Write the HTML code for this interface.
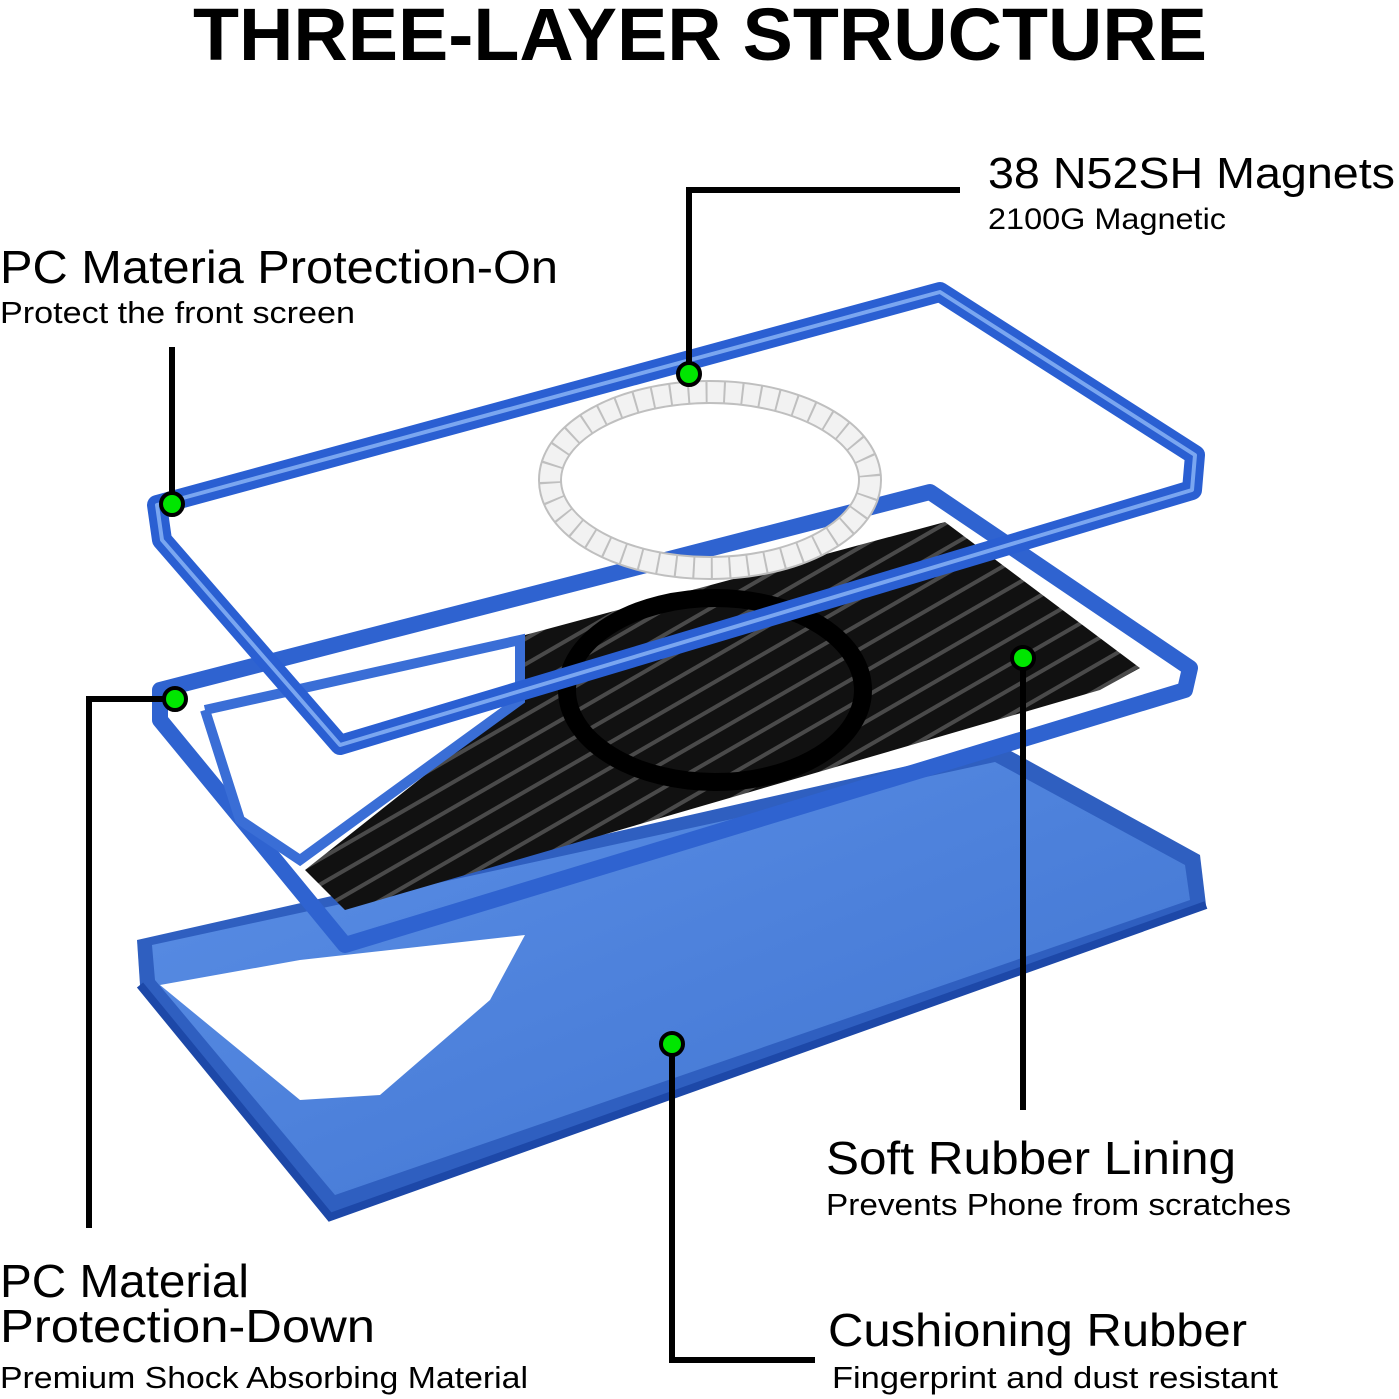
<!DOCTYPE html>
<html><head><meta charset="utf-8"><style>
html,body{margin:0;padding:0;background:#fff}
svg{display:block}
text{font-family:"Liberation Sans","DejaVu Sans",sans-serif;fill:#000}
</style></head><body>
<svg width="1399" height="1399" viewBox="0 0 1399 1399" xmlns="http://www.w3.org/2000/svg">
<defs>
<pattern id="st" width="22" height="22" patternUnits="userSpaceOnUse" patternTransform="rotate(-30)">
<rect width="22" height="22" fill="#111"/>
<rect y="0" width="22" height="4" fill="#4a4a4a"/>
</pattern>
<linearGradient id="bl" x1="0" y1="0" x2="1" y2="1">
<stop offset="0" stop-color="#5b8fe6"/><stop offset="1" stop-color="#3f73d0"/>
</linearGradient>
</defs>
<text x="193" y="60" font-size="74" font-weight="bold" textLength="1014" lengthAdjust="spacingAndGlyphs">THREE-LAYER STRUCTURE</text>

<!-- bottom case -->
<polygon points="137,940 1000,745 1200,855 1206,905 330,1217 140,985" fill="#2f5fc0"/>
<polygon points="152,945 995,762 1185,865 1190,900 335,1195 155,980" fill="url(#bl)"/>
<polygon points="160,985 300,960 525,935 490,1000 380,1095 300,1100" fill="#fff"/>
<polyline points="140,985 330,1217 1206,905" fill="none" stroke="#1d48a8" stroke-width="8"/>

<!-- middle layer -->
<polygon points="160,690 930,492 1190,668 1185,690 345,945 160,720" fill="none" stroke="#2f63d0" stroke-width="16" stroke-linejoin="round"/>
<polygon points="525,635 945,522 1140,668 1100,690 345,910 305,870 520,700" fill="url(#st)"/>
<ellipse cx="715" cy="690" rx="148" ry="92" fill="none" stroke="#000" stroke-width="18"/>
<polygon points="205,710 520,640 520,700 300,860 240,820" fill="#fff"/>
<polyline points="205,710 520,640 520,700 300,860 240,820 205,710" fill="none" stroke="#3a6ed6" stroke-width="10"/>

<!-- top frame -->
<polygon points="157,505 940,292 1195,455 1192,490 340,745 162,540" fill="none" stroke="#2a5fd2" stroke-width="20" stroke-linejoin="round"/>
<polygon points="157,505 940,292 1195,455 1192,490 340,745 162,540" fill="none" stroke="#7aa6f0" stroke-width="4" stroke-linejoin="round"/>
<ellipse cx="710" cy="480" rx="160" ry="88" fill="none" stroke="#bfbfbf" stroke-width="24"/>
<ellipse cx="710" cy="480" rx="160" ry="88" fill="none" stroke="#f2f2f2" stroke-width="20" stroke-dasharray="16 2"/>

<!-- connectors -->
<g stroke="#000" stroke-width="6" fill="none">
<polyline points="960,190 689,190 689,374"/>
<line x1="172" y1="347" x2="172" y2="504"/>
<polyline points="175,699 89,699 89,1228"/>
<line x1="1023" y1="658" x2="1023" y2="1110"/>
<polyline points="672,1044 672,1360 815,1360"/>
</g>
<g fill="#00e600" stroke="#000" stroke-width="4">
<circle cx="689" cy="374" r="11"/>
<circle cx="172" cy="504" r="11"/>
<circle cx="175" cy="699" r="11"/>
<circle cx="1023" cy="658" r="11"/>
<circle cx="672" cy="1044" r="11"/>
</g>

<text x="988" y="188" font-size="44" textLength="407" lengthAdjust="spacingAndGlyphs">38 N52SH Magnets</text>
<text x="988" y="229" font-size="30" textLength="238" lengthAdjust="spacingAndGlyphs">2100G Magnetic</text>
<text x="0" y="283" font-size="46" textLength="558" lengthAdjust="spacingAndGlyphs">PC Materia Protection-On</text>
<text x="0" y="323" font-size="31" textLength="355" lengthAdjust="spacingAndGlyphs">Protect the front screen</text>
<text x="826" y="1174" font-size="46" textLength="410" lengthAdjust="spacingAndGlyphs">Soft Rubber Lining</text>
<text x="826" y="1215" font-size="31" textLength="465" lengthAdjust="spacingAndGlyphs">Prevents Phone from scratches</text>
<text x="0" y="1297" font-size="46" textLength="249" lengthAdjust="spacingAndGlyphs">PC Material</text>
<text x="0" y="1342" font-size="46" textLength="375" lengthAdjust="spacingAndGlyphs">Protection-Down</text>
<text x="0" y="1388" font-size="31" textLength="528" lengthAdjust="spacingAndGlyphs">Premium Shock Absorbing Material</text>
<text x="828" y="1346" font-size="46" textLength="419" lengthAdjust="spacingAndGlyphs">Cushioning Rubber</text>
<text x="832" y="1388" font-size="31" textLength="446" lengthAdjust="spacingAndGlyphs">Fingerprint and dust resistant</text>
</svg>
</body></html>
